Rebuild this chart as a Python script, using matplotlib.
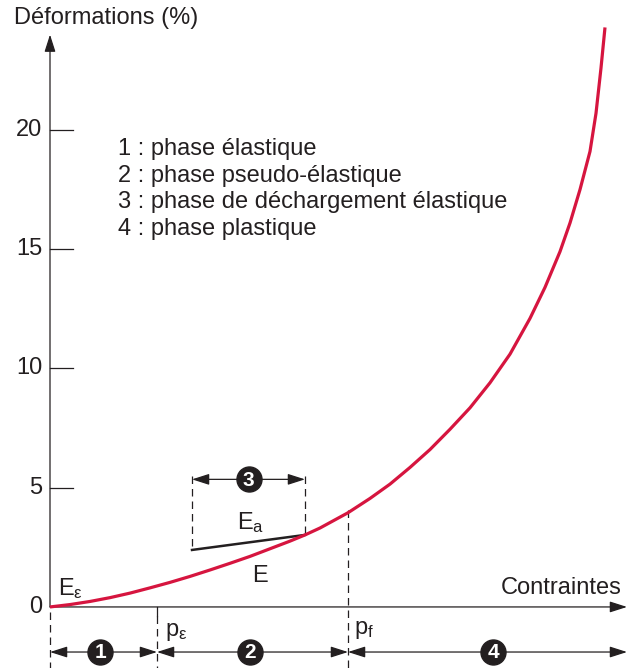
import matplotlib.pyplot as plt

plt.rcParams['font.family'] = ['Liberation Sans', 'DejaVu Sans']
plt.rcParams['mathtext.fontset'] = 'custom'
plt.rcParams['mathtext.rm'] = 'Liberation Sans'
plt.rcParams['mathtext.it'] = 'Liberation Sans'

# stress (arbitrary units) vs deformation (%)
contrainte = [0, 2, 4, 6, 8, 10, 12, 14, 16, 18, 20, 22, 24, 25.5, 27, 29.8, 32,
              34, 36, 38, 40, 42, 44, 46, 48, 49.5, 51, 52, 53, 54, 54.6, 55.1, 55.5]
deformation = [0, 0.1, 0.23, 0.39, 0.58, 0.8, 1.03, 1.28, 1.55, 1.83, 2.12, 2.44,
               2.76, 3.02, 3.31, 3.95, 4.55, 5.15, 5.85, 6.6, 7.45, 8.35, 9.4, 10.6,
               12.1, 13.4, 14.9, 16.1, 17.5, 19.1, 20.7, 22.6, 24.3]

yticks = [0, 5, 10, 15, 20]
phases = ['1 : phase élastique', '2 : phase pseudo-élastique',
          '3 : phase de déchargement élastique', '4 : phase plastique']

p_eps = 10.7
p_f = 29.8
x_max = 57.7
y_max = 24.0
# unloading segment (phase 3)
ea_x = [14.2, 25.5]
ea_y = [2.39, 3.02]

ink = '#231f20'
red = '#d6153f'
fs = 17

fig = plt.figure(figsize=(6.29, 6.68), dpi=100)
ax = fig.add_axes([0, 0, 1, 1])
ax.set_xlim(-5.0, 57.9)
ax.set_ylim(-2.56, 25.45)
ax.axis('off')

arrow = dict(arrowstyle='-|>,head_length=0.75,head_width=0.24', color=ink, lw=0.9,
             shrinkA=0, shrinkB=0, mutation_scale=14)
both = dict(arrowstyle='<|-|>,head_length=0.75,head_width=0.24', color=ink, lw=0.9,
            shrinkA=0, shrinkB=0, mutation_scale=14)

# axes
ax.annotate('', xy=(0, y_max), xytext=(0, 0), arrowprops=arrow)
ax.annotate('', xy=(x_max, 0), xytext=(0, 0), arrowprops=arrow)
for t in yticks[1:]:
    ax.plot([0, 2.3], [t, t], color=ink, lw=0.9)
for t in yticks:
    ax.text(-0.8, t, str(t), ha='right', va='center', fontsize=fs, color=ink)
ax.text(-3.6, 25.15, 'Déformations (%)', ha='left', va='top', fontsize=fs, color=ink)
ax.text(57.2, 0.35, 'Contraintes', ha='right', va='bottom', fontsize=fs, color=ink)

# legend of phases
for i, s in enumerate(phases):
    ax.text(6.8, 19.2 - i * 1.12, s, ha='left', va='center', fontsize=fs, color=ink)

# curve
ax.plot(contrainte, deformation, color=red, lw=2.3, solid_joinstyle='round',
        solid_capstyle='butt', zorder=5)

# dashed markers
dash = dict(color=ink, lw=0.9, linestyle=(0, (6, 4)))
ax.plot([0, 0], [-0.2, -2.56], **dash)
ax.plot([p_eps, p_eps], [0, -0.4], color=ink, lw=0.9)
ax.plot([p_eps, p_eps], [-0.4, -2.56], **dash)
ax.plot([p_f, p_f], [4.07, -2.56], **dash)
ax.plot([ea_x[0], ea_x[0]], [5.5, ea_y[0]], **dash)
ax.plot([ea_x[1], ea_x[1]], [5.5, ea_y[1]], **dash)

# unloading line
ax.plot(ea_x, ea_y, color=ink, lw=1.8, zorder=4)

# phase spans
y_row = -1.89
spans = [(0, p_eps, '1', 5.0), (p_eps, p_f, '2', 20.0), (p_f, x_max, '4', 44.3)]
for a, b, lab, c in spans:
    ax.annotate('', xy=(b, y_row), xytext=(a, y_row), arrowprops=both)
    ax.plot(c, y_row, 'o', ms=18, color=ink, zorder=6)
    ax.text(c, y_row - 0.03, lab, ha='center', va='center', fontsize=15,
            fontweight='bold', color='white', zorder=7)
ax.annotate('', xy=(ea_x[1], 5.35), xytext=(ea_x[0], 5.35), arrowprops=both)
ax.plot(sum(ea_x) / 2, 5.35, 'o', ms=18, color=ink, zorder=6)
ax.text(sum(ea_x) / 2, 5.32, '3', ha='center', va='center', fontsize=15,
        fontweight='bold', color='white', zorder=7)

# labels on the curve
ax.text(0.8, 0.5, 'E$_{\\mathrm{ε}}$', fontsize=fs, color=ink)
ax.text(21.0, 1.05, 'E', ha='center', fontsize=fs, color=ink)
ax.text(18.7, 3.25, 'E$_{\\mathrm{a}}$', fontsize=fs, color=ink)
ax.text(p_eps + 0.8, -0.6, 'p$_{\\mathrm{ε}}$', va='top', fontsize=fs, color=ink)
ax.text(p_f + 0.6, -0.5, 'p$_{\\mathrm{f}}$', va='top', fontsize=fs, color=ink)

fig.savefig('out.png', dpi=100)
